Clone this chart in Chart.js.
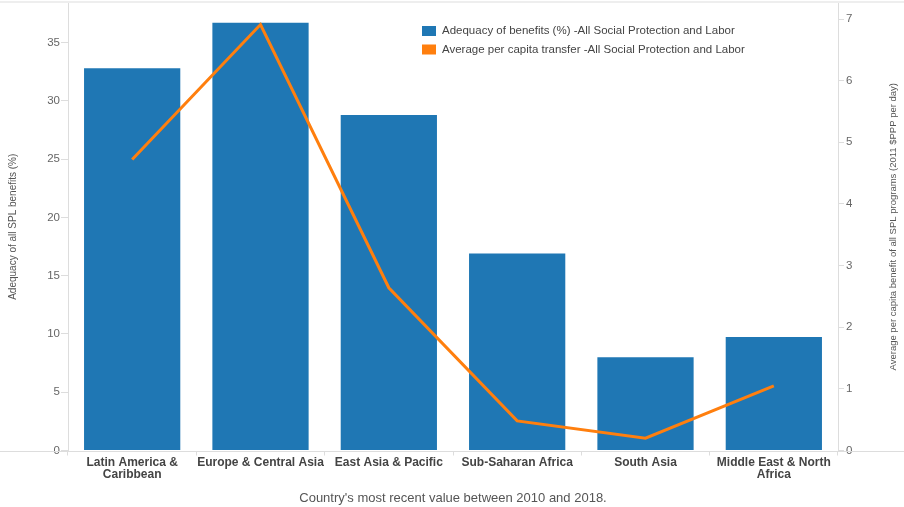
<!DOCTYPE html>
<html>
<head>
<meta charset="utf-8">
<title>Adequacy of benefits and average per capita transfer by region</title>
<script src="https://cdn.jsdelivr.net/npm/chart.js@4.4.1/dist/chart.umd.min.js"></script>
<style>
  html,body{margin:0;padding:0;background:#fff;}
  #wrap{width:904px;height:507px;}
</style>
</head>
<body>
<div id="wrap"><canvas id="chart" width="904" height="507"></canvas></div>
<script>
const FONT = '"Liberation Sans", Arial, Helvetica, sans-serif';

// ========== Data ==========
const regions = ['Latin America & Caribbean','Europe & Central Asia','East Asia & Pacific','Sub-Saharan Africa','South Asia','Middle East & North Africa'];
const regionLines = [['Latin America &','Caribbean'],'Europe & Central Asia','East Asia & Pacific','Sub-Saharan Africa','South Asia',['Middle East & North','Africa']];
const adequacy = [32.8, 36.7, 28.8, 16.9, 8.0, 9.75];
const transfer = [4.72, 6.91, 2.64, 0.48, 0.20, 1.05];
const leftTickValues = [0, 5, 10, 15, 20, 25, 30, 35];
const rightTickValues = [0, 1, 2, 3, 4, 5, 6, 7];

const seriesNames = ['Adequacy of benefits (%) -All Social Protection and Labor','Average per capita transfer -All Social Protection and Labor'];
const leftTitle = 'Adequacy of all SPL benefits (%)';
const rightTitle = 'Average per capita benefit of all SPL programs (2011 $PPP per day)';
const xTitle = "Country's most recent value between 2010 and 2018.";

const BLUE = '#1f77b4';
const ORANGE = '#ff7f0e';
const AXIS = '#dddddd';

// y axes: no extra room above/below for half tick labels
function fixedWidth(w){
  return scale => { scale.width = w; scale.paddingTop = 0; scale.paddingBottom = 0; };
}

// ========== Extra drawing: frame lines, right title, legend ==========
const decorations = {
  id:'decorations',
  afterDatasetsDraw(chart){
    const {ctx, chartArea, width} = chart;
    ctx.save();
    // full width rules at top and along the baseline
    ctx.strokeStyle = '#eeeeee';
    ctx.lineWidth = 2;
    ctx.beginPath(); ctx.moveTo(0, 2); ctx.lineTo(width, 2); ctx.stroke();
    ctx.strokeStyle = AXIS;
    ctx.lineWidth = 1;
    const yb = Math.round(chartArea.bottom) + 0.5;
    ctx.beginPath(); ctx.moveTo(0, yb); ctx.lineTo(width, yb); ctx.stroke();

    // right axis title, reading upwards
    ctx.fillStyle = '#555';
    ctx.font = '9.5px ' + FONT;
    ctx.textAlign = 'center';
    ctx.textBaseline = 'middle';
    ctx.translate(893, (chartArea.top + chartArea.bottom)/2);
    ctx.rotate(-Math.PI/2);
    ctx.fillText(rightTitle, 0, 0);
    ctx.restore();

    // legend
    ctx.save();
    ctx.font = '11.5px ' + FONT;
    ctx.textAlign = 'left';
    ctx.textBaseline = 'middle';
    chart.data.datasets.forEach((ds,i)=>{
      const y = 31 + i*18.5;
      ctx.fillStyle = ds.legendColor;
      ctx.fillRect(422, y-5, 14, 10);
      ctx.fillStyle = '#444';
      ctx.fillText(ds.label, 442, y);
    });
    ctx.restore();
  }
};

// ========== Chart ==========
const ctx = document.getElementById('chart').getContext('2d');
new Chart(ctx,{
  type:'bar',
  data:{
    labels: regions,
    datasets:[
      {type:'bar',label:seriesNames[0],data:adequacy,yAxisID:'y',backgroundColor:BLUE,legendColor:BLUE,
       barPercentage:0.75,categoryPercentage:1,order:1},
      {type:'line',label:seriesNames[1],data:transfer,yAxisID:'y1',borderColor:ORANGE,backgroundColor:ORANGE,legendColor:ORANGE,
       borderWidth:3,pointRadius:0,tension:0,order:0}
    ]
  },
  options:{
    responsive:false,
    animation:false,
    layout:{padding:{top:3,left:0,right:0,bottom:0}},
    plugins:{legend:{display:false},tooltip:{enabled:false}},
    scales:{
      x:{
        offset:true,
        grid:{offset:true,drawOnChartArea:false,tickLength:5,color:AXIS},
        border:{display:false},
        ticks:{font:{family:FONT,size:12,weight:'bold',lineHeight:1},color:'#444',padding:1,maxRotation:0,autoSkip:false,
               callback:(v,i)=>regionLines[i]},
        title:{display:true,text:xTitle,font:{family:FONT,size:13},color:'#555',padding:{top:0,bottom:1}},
        afterFit(scale){ scale.height = 56.5; scale.paddingLeft = 0; scale.paddingRight = 0; }
      },
      y:{
        position:'left',min:0,max:38.4,
        afterBuildTicks(scale){ scale.ticks = leftTickValues.map(v=>({value:v})); },
        grid:{drawOnChartArea:false,tickLength:7,color:AXIS},
        border:{display:true,color:AXIS},
        ticks:{font:{family:FONT,size:11.5},color:'#666',padding:1},
        title:{display:true,text:leftTitle,font:{family:FONT,size:10},color:'#555',padding:{top:7,bottom:0}},
        afterFit: fixedWidth(68)
      },
      y1:{
        position:'right',min:0,max:7.26,
        afterBuildTicks(scale){ scale.ticks = rightTickValues.map(v=>({value:v})); },
        grid:{drawOnChartArea:false,tickLength:6,color:AXIS},
        border:{display:true,color:AXIS},
        ticks:{font:{family:FONT,size:11.5},color:'#666',padding:2},
        afterFit: fixedWidth(66)
      }
    }
  },
  plugins:[decorations]
});
</script>
</body>
</html>
